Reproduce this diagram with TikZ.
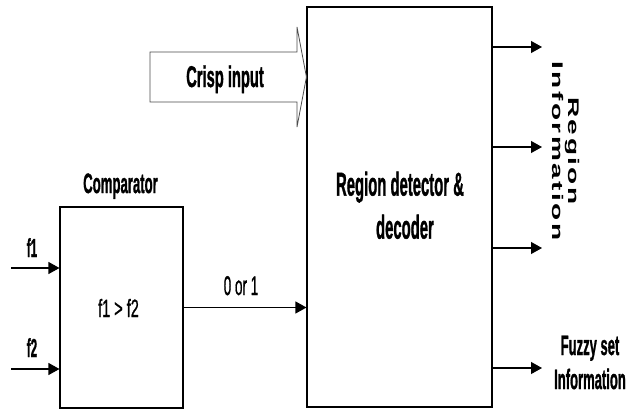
\documentclass[tikz,border=0pt]{standalone}
\usepackage{fontspec}
\setmainfont{Liberation Sans}
\newfontfamily\hb[FakeBold=1.5]{Liberation Sans}
\newfontfamily\hr[FakeBold=1.2]{Liberation Sans}
\usepackage{graphicx}
\usetikzlibrary{arrows.meta}
\newcommand{\nb}[3]{\scalebox{#1}[1]{\fontsize{#2}{#2}\selectfont\hb\bfseries #3}}
\newcommand{\nr}[3]{\scalebox{#1}[1]{\fontsize{#2}{#2}\selectfont\hr #3}}
\begin{document}
\begin{tikzpicture}[x=1pt,y=-1pt,
  box/.style={draw=black, line width=1.1pt, inner sep=0pt},
  arr/.style={line width=1.1pt, -{Triangle[length=11pt,width=12pt]}},
  txt/.style={inner sep=0pt, anchor=base},
  blockarrow/.style={draw=black!70, line width=0.8pt, fill=white}]
\useasboundingbox (0,0) rectangle (629,412);
% boxes
\node[box, minimum width=123pt, minimum height=201pt] (comp) at (121.5,307.5) {};
\node[box, minimum width=185pt, minimum height=400pt] (reg) at (399.5,207) {};
% crisp input block arrow
\coordinate (crispy) at (0,77);
\coordinate (tip) at (reg.west |- crispy);
\draw[blockarrow] (150,52) -- (297,52) -- (297,27) -- (tip) -- (297,127) -- (297,102) -- (150,102) -- cycle;
\node[txt] (crisp) at (225,87) {\nb{0.49}{30}{Crisp input}};
% comparator texts
\node[txt] (comptitle) at (120.5,193) {\nb{0.47}{28}{Comparator}};
\node[txt] (cmp) at (118.5,317) {\nr{0.58}{25}{f1 > f2}};
% inputs
\coordinate (f1s) at (11,268);
\coordinate (f2s) at (11,369);
\draw[arr] (f1s) -- (f1s -| comp.west);
\draw[arr] (f2s) -- (f2s -| comp.west);
\node[txt] (f1) at (32,257) {\nb{0.45}{26}{f1}};
\node[txt] (f2) at (32,357) {\nb{0.45}{26}{f2}};
% comparator output
\draw[arr] (comp.east) -- (comp.east -| reg.west);
\node[txt] (zo) at (241,295) {\nr{0.5}{27}{0 or 1}};
% region text
\node[inner sep=0pt] (regtext) at (400,208.5) {\fontsize{33}{43}\selectfont\hb\bfseries\scalebox{0.45}[1]{\begin{tabular}{@{}c@{}}Region detector \&\\\hspace*{22pt}decoder\end{tabular}}};
% outputs
\coordinate (o1) at (542,47);
\coordinate (o2) at (542,147);
\coordinate (o3) at (542,248);
\coordinate (o4) at (542,368);
\draw[arr] (o1 -| reg.east) -- (o1);
\draw[arr] (o2 -| reg.east) -- (o2);
\draw[arr] (o3 -| reg.east) -- (o3);
\draw[arr] (o4 -| reg.east) -- (o4);
\node[rotate=-90, inner sep=0pt] (reginfo) at (564,151) {\scalebox{1}[0.55]{\fontsize{28}{29}\selectfont\bfseries\addfontfeature{LetterSpace=9}\begin{tabular}{@{}c@{}}Region\\Information\end{tabular}}};
\node[inner sep=0pt] (fuzzy) at (590,365.2) {\fontsize{28}{34}\selectfont\hb\bfseries\scalebox{0.465}[1]{\begin{tabular}{@{}c@{}}Fuzzy set\\Information\end{tabular}}};
\end{tikzpicture}
\end{document}
